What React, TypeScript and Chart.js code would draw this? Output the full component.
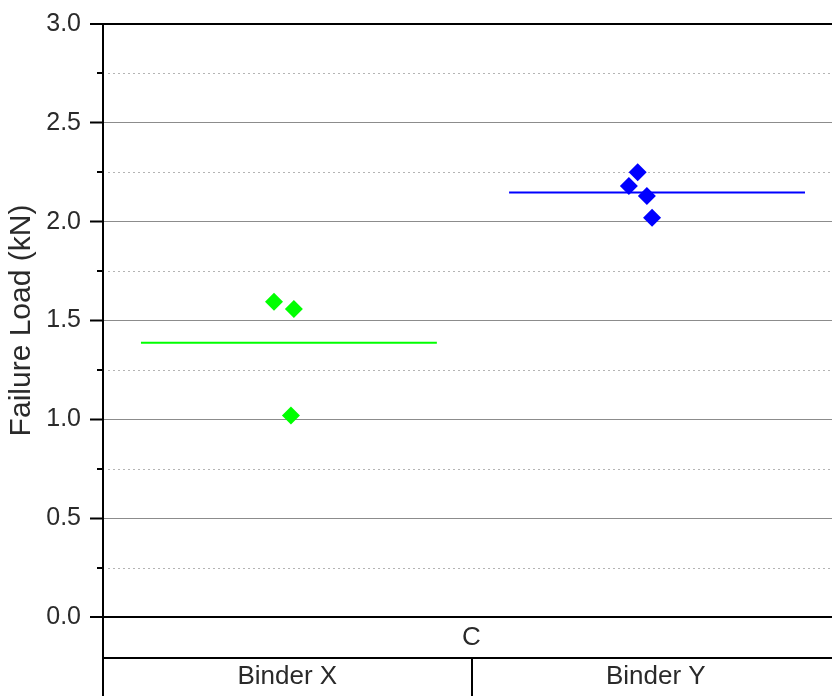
import React, { useEffect, useRef } from "react";
import { Chart, registerables } from "chart.js";

Chart.register(...registerables);

// ---- data ----
const categories = ["Binder X", "Binder Y"];
const groupLabel = "C";
const yTitle = "Failure Load (kN)";

// jittered category positions (1 = Binder X, 2 = Binder Y) and failure loads
const binderXPos = [0.964, 1.018, 1.01];
const binderXLoad = [1.595, 1.558, 1.02];
const binderYPos = [1.927, 1.951, 1.976, 1.99];
const binderYLoad = [2.18, 2.25, 2.13, 2.02];

// mean lines
const meanLoads = [1.387, 2.148];
const meanStart = [0.603, 1.602];
const meanEnd = [1.406, 2.405];

const yMin = 0;
const yMax = 3;
const yStep = 0.5;
const minorTicks = [0.25, 0.75, 1.25, 1.75, 2.25, 2.75];

const GREEN = "#00ff00";
const BLUE = "#0000ff";
const TEXT = "#2a2a2a";
const FONT = '"Liberation Sans", Arial, sans-serif';

const decorPlugin = {
  id: "decor",
  beforeDatasetsDraw(chart: any) {
    const { ctx, chartArea } = chart;
    const y = chart.scales.y;
    ctx.save();
    ctx.strokeStyle = "#b4b4b4";
    ctx.lineWidth = 1;
    ctx.setLineDash([2, 3]);
    minorTicks.forEach((v) => {
      const py = Math.round(y.getPixelForValue(v)) + 0.5;
      ctx.beginPath();
      ctx.moveTo(chartArea.left + 5, py);
      ctx.lineTo(chartArea.right, py);
      ctx.stroke();
    });
    ctx.setLineDash([]);
    ctx.strokeStyle = "#000";
    ctx.lineWidth = 2;
    minorTicks.forEach((v) => {
      const py = Math.round(y.getPixelForValue(v));
      ctx.beginPath();
      ctx.moveTo(chartArea.left - 6, py);
      ctx.lineTo(chartArea.left, py);
      ctx.stroke();
    });
    ctx.restore();
  },
  afterDraw(chart: any) {
    const { ctx, chartArea } = chart;
    const x = chart.scales.x;
    const H = chart.height;
    const W = chart.width;
    const top = chartArea.bottom;
    const row2 = top + 41;
    ctx.save();
    ctx.strokeStyle = "#000";
    ctx.lineWidth = 2;
    // extend y axis down through the label table
    ctx.beginPath();
    ctx.moveTo(chartArea.left, top);
    ctx.lineTo(chartArea.left, H);
    ctx.stroke();
    // row separator
    ctx.beginPath();
    ctx.moveTo(chartArea.left, row2);
    ctx.lineTo(W, row2);
    ctx.stroke();
    // category separators
    for (let i = 1; i < categories.length; i++) {
      const px = Math.round(x.getPixelForValue(i + 0.5));
      ctx.beginPath();
      ctx.moveTo(px, row2);
      ctx.lineTo(px, H);
      ctx.stroke();
    }
    ctx.fillStyle = TEXT;
    ctx.font = `26px ${FONT}`;
    ctx.textAlign = "center";
    ctx.textBaseline = "middle";
    ctx.fillText(groupLabel, x.getPixelForValue((1 + categories.length) / 2), (top + row2) / 2);
    categories.forEach((c, i) => {
      ctx.fillText(c, x.getPixelForValue(i + 1), (row2 + H) / 2);
    });
    ctx.restore();
  },
};

export default function App() {
  const ref = useRef<HTMLCanvasElement | null>(null);

  useEffect(() => {
    if (!ref.current) return;
    const chart = new Chart(ref.current, {
      type: "scatter",
      data: {
        datasets: [
          {
            label: categories[0],
            data: binderXPos.map((p, i) => ({ x: p, y: binderXLoad[i] })),
            backgroundColor: GREEN,
            borderWidth: 0,
            pointStyle: "rectRot",
            pointRadius: 9,
          },
          {
            label: categories[1],
            data: binderYPos.map((p, i) => ({ x: p, y: binderYLoad[i] })),
            backgroundColor: BLUE,
            borderWidth: 0,
            pointStyle: "rectRot",
            pointRadius: 9,
          },
          {
            type: "line",
            label: "Mean X",
            data: [
              { x: meanStart[0], y: meanLoads[0] },
              { x: meanEnd[0], y: meanLoads[0] },
            ],
            borderColor: GREEN,
            borderWidth: 2,
            pointRadius: 0,
            showLine: true,
          } as any,
          {
            type: "line",
            label: "Mean Y",
            data: [
              { x: meanStart[1], y: meanLoads[1] },
              { x: meanEnd[1], y: meanLoads[1] },
            ],
            borderColor: BLUE,
            borderWidth: 2,
            pointRadius: 0,
            showLine: true,
          } as any,
        ],
      },
      options: {
        animation: false,
        responsive: false,
        layout: { padding: { top: 23, right: 10, left: 0, bottom: 0 } },
        plugins: { legend: { display: false }, tooltip: { enabled: false } },
        scales: {
          x: {
            type: "linear",
            min: 0.5,
            max: categories.length + 0.5,
            grid: { display: false },
            border: { display: false },
            ticks: { display: false },
            afterFit: (s: any) => {
              s.height = 79;
            },
          },
          y: {
            type: "linear",
            min: yMin,
            max: yMax,
            afterFit: (s: any) => {
              s.width = 103;
            },
            ticks: {
              stepSize: yStep,
              padding: 9,
              color: TEXT,
              font: { family: FONT, size: 25 },
              callback: (v: any) => Number(v).toFixed(1),
            },
            grid: {
              color: (c: any) =>
                c.tick && (c.tick.value === yMin || c.tick.value === yMax) ? "#000" : "#8c8c8c",
              lineWidth: (c: any) =>
                c.tick && (c.tick.value === yMin || c.tick.value === yMax) ? 2 : 1,
              tickColor: "#000",
              tickWidth: 2,
              tickLength: 13,
            },
            border: { color: "#000", width: 2 },
            title: {
              display: true,
              text: yTitle,
              color: TEXT,
              font: { family: FONT, size: 30 },
              padding: { top: 4, bottom: 0 },
            },
          },
        },
      },
      plugins: [decorPlugin],
    });
    return () => chart.destroy();
  }, []);

  return (
    <div
      style={{
        position: "fixed",
        left: 0,
        top: 0,
        width: 832,
        height: 696,
        overflow: "hidden",
        background: "#fff",
      }}
    >
      <canvas ref={ref} width={850} height={696} style={{ display: "block" }} />
    </div>
  );
}
